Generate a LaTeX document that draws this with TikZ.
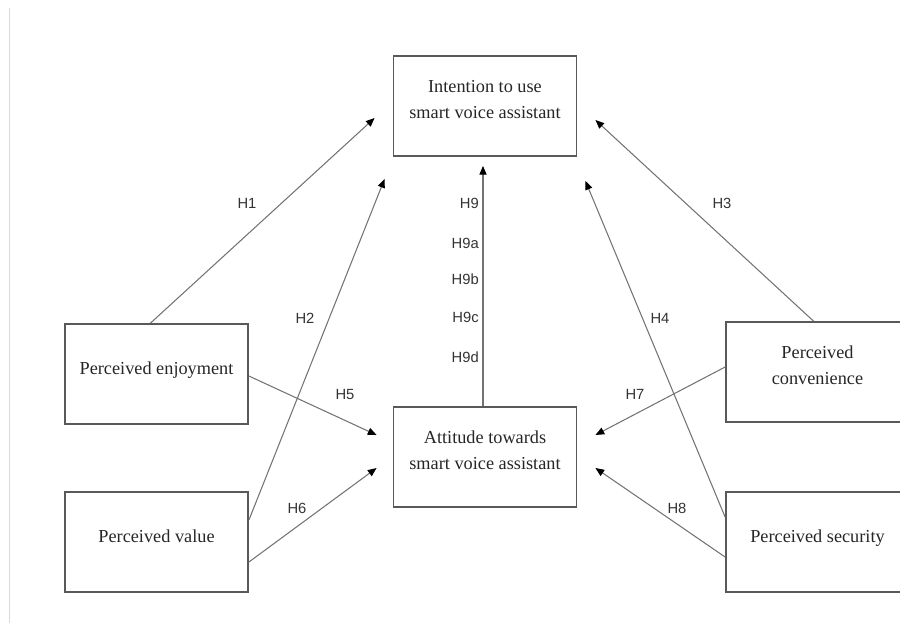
\documentclass[tikz,border=0pt]{standalone}
\usepackage{fontspec}
\setmainfont{Liberation Serif}
\setsansfont{Liberation Sans}
\usetikzlibrary{arrows.meta}

\begin{document}
\begin{tikzpicture}[
    x=0.25mm, y=-0.25mm,
    construct/.style={draw=black!65, line width=1.3pt, minimum width=45.75mm, inner sep=0pt,
        align=center, font=\fontsize{13}{17.8}\selectfont, text=black!85,
        text height=12.5mm, text depth=12.5mm},
    twoline/.style={construct, text height=15.5mm, text depth=9.5mm},
    hyp/.style={-{Triangle[length=2.2mm, width=1.8mm, fill=black, color=black]}, draw=black!55, line width=0.75pt},
    hlabel/.style={font=\sffamily\fontsize{10.5}{12}\selectfont, text=black!80, inner sep=0pt}
]
\useasboundingbox (0,0) rectangle (900,623);
\draw[black!15, line width=1.4pt] (9.5,8) -- (9.5,623);

% constructs
\node[twoline] (intent) at (485,106) {Intention to use\\smart voice assistant};
\node[twoline] (attitude) at (485,457) {Attitude towards\\smart voice assistant};
\node[construct] (enjoy) at (156.5,374) {Perceived enjoyment};
\node[construct] (value) at (156.5,542) {Perceived value};
\node[twoline] (conv) at (817.5,372) {Perceived\\convenience};
\node[construct] (secur) at (817.5,542) {Perceived security};

% hypotheses
\draw[hyp] ([shift={(-6,0)}]enjoy.north) -- ([shift={(-18,12)}]intent.west);
\draw[hyp] ([shift={(0,-22)}]value.east) -- ([shift={(-8,22)}]intent.south west);
\draw[hyp] ([shift={(-4,0)}]conv.north) -- ([shift={(18,14)}]intent.east);
\draw[hyp] ([shift={(0,-25)}]secur.west) -- ([shift={(8,24)}]intent.south east);
\draw[hyp] ([shift={(0,2)}]enjoy.east) -- ([shift={(-16,-22)}]attitude.west);
\draw[hyp] ([shift={(0,20)}]value.east) -- ([shift={(-16,11)}]attitude.west);
\draw[hyp] ([shift={(0,-5)}]conv.west) -- ([shift={(18,-22)}]attitude.east);
\draw[hyp] ([shift={(0,15)}]secur.west) -- ([shift={(18,11)}]attitude.east);
\draw[hyp] ([shift={(-2,0)}]attitude.north) -- ([shift={(-2,9)}]intent.south);

\node[hlabel] (h1) at (247,203) {H1};
\node[hlabel] (h2) at (305,318) {H2};
\node[hlabel] (h3) at (722,203) {H3};
\node[hlabel] (h4) at (660,318) {H4};
\node[hlabel] (h5) at (345,394) {H5};
\node[hlabel] (h6) at (297,508) {H6};
\node[hlabel] (h7) at (635,394) {H7};
\node[hlabel] (h8) at (677,508) {H8};
\foreach \lab/\ypos in {9/203, 9a/243, 9b/279, 9c/317, 9d/357}
    \node[hlabel, anchor=east] (h\lab) at (479,\ypos) {H\lab};
\end{tikzpicture}
\end{document}
